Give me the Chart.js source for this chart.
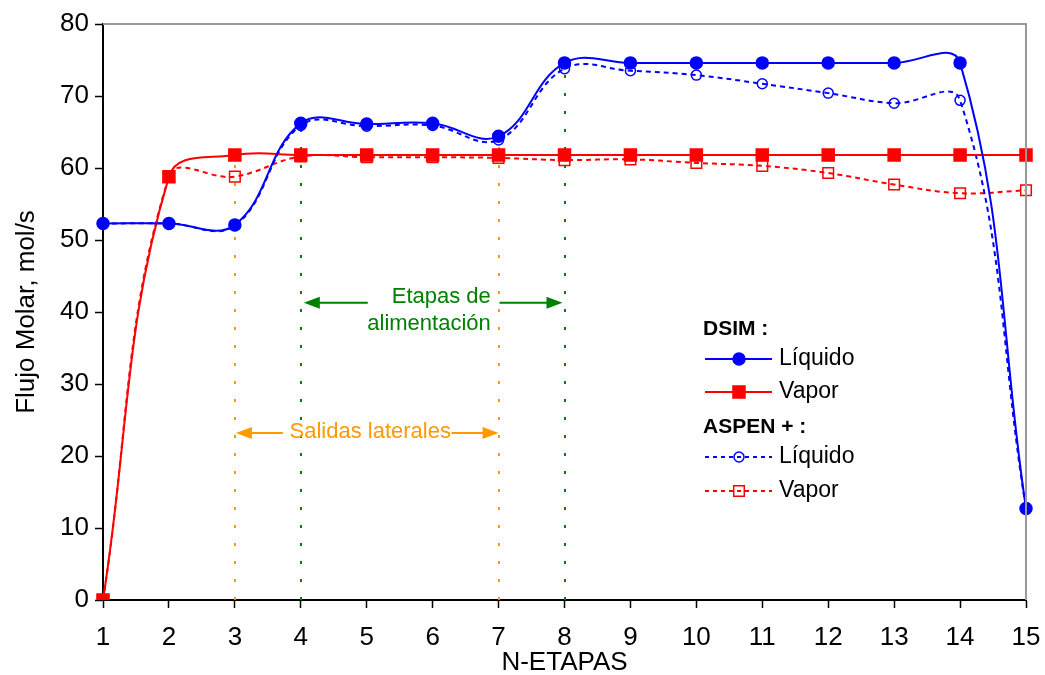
<!DOCTYPE html>
<html lang="es">
<head>
<meta charset="UTF-8">
<title>Flujo molar por etapa</title>
<script src="https://cdn.jsdelivr.net/npm/chart.js"></script>
<style>
  body { margin: 0; background: #fff; }
  #wrap { width: 1045px; height: 675px; }
</style>
</head>
<body>
<div id="wrap"><canvas id="flujo" width="1045" height="675"></canvas></div>
<script>
  // etapas de la columna y flujos molares (mol/s)
  const etapas = ['1', '2', '3', '4', '5', '6', '7', '8', '9', '10', '11', '12', '13', '14', '15'];
  const dsimLiquido = [52.3, 52.3, 52.1, 66.2, 66.1, 66.2, 64.4, 74.6, 74.6, 74.6, 74.6, 74.6, 74.6, 74.6, 12.7];
  const dsimVapor   = [0, 58.8, 61.8, 61.8, 61.8, 61.8, 61.8, 61.8, 61.8, 61.8, 61.8, 61.8, 61.8, 61.8, 61.8];
  const aspenLiquido = [52.3, 52.3, 52.0, 65.9, 65.8, 65.9, 63.9, 73.8, 73.5, 72.9, 71.7, 70.4, 69.0, 69.4, 12.7];
  const aspenVapor   = [0, 58.8, 58.8, 61.6, 61.5, 61.5, 61.4, 61.1, 61.2, 60.7, 60.3, 59.3, 57.7, 56.5, 56.9];

  // líneas de referencia verticales: [etapa, valor superior]
  const salidasLaterales = [[3, 61.8], [7, 63.9]];
  const etapasAlimentacion = [[4, 66.0], [8, 74.0]];

  const FONT = "'Liberation Sans', Arial, sans-serif";
  const AZUL = '#0000ff', ROJO = '#ff0000', VERDE = '#008000', NARANJA = '#ff9900';

  function flecha(ctx, x0, x1, y, color) {
    const dir = Math.sign(x1 - x0);
    ctx.strokeStyle = color; ctx.fillStyle = color; ctx.lineWidth = 2;
    ctx.beginPath(); ctx.moveTo(x0, y); ctx.lineTo(x1 - dir * 12, y); ctx.stroke();
    ctx.beginPath();
    ctx.moveTo(x1, y);
    ctx.lineTo(x1 - dir * 16, y - 6);
    ctx.lineTo(x1 - dir * 16, y + 6);
    ctx.closePath(); ctx.fill();
  }

  const anotaciones = {
    id: 'anotaciones',
    beforeDatasetsDraw(chart) {
      const { ctx, scales: { x, y } } = chart;
      ctx.save();
      ctx.lineWidth = 2;
      ctx.setLineDash([3, 15]);
      const vertical = (lista, color) => lista.forEach(([e, v]) => {
        const px = Math.round(x.getPixelForValue(e - 1));
        ctx.strokeStyle = color;
        ctx.beginPath(); ctx.moveTo(px, y.getPixelForValue(0)); ctx.lineTo(px, y.getPixelForValue(v)); ctx.stroke();
      });
      vertical(salidasLaterales, NARANJA);
      vertical(etapasAlimentacion, VERDE);
      ctx.setLineDash([]);

      // etapas de alimentación
      const yA = y.getPixelForValue(41.3);
      const a4 = x.getPixelForValue(3) + 3, a8 = x.getPixelForValue(7) - 2;
      flecha(ctx, a4 + 64, a4, yA, VERDE);
      flecha(ctx, a8 - 63, a8, yA, VERDE);
      ctx.font = '22px ' + FONT;
      ctx.fillStyle = VERDE;
      ctx.textAlign = 'right'; ctx.textBaseline = 'middle';
      ctx.fillText('Etapas de', a4 + 187, yA - 6);
      ctx.fillText('alimentación', a4 + 187, yA + 21);

      // salidas laterales
      const yS = y.getPixelForValue(23.2);
      const s3 = x.getPixelForValue(2) + 1, s7 = x.getPixelForValue(6);
      flecha(ctx, s3 + 47, s3, yS, NARANJA);
      flecha(ctx, s7 - 47, s7, yS, NARANJA);
      ctx.fillStyle = NARANJA;
      ctx.textAlign = 'center';
      ctx.fillText('Salidas laterales', (s3 + s7) / 2 + 3, yS - 1);
      ctx.restore();
    },
    afterDraw(chart) {
      const { ctx, chartArea: a } = chart;
      ctx.save();
      // marco gris superior y derecho
      ctx.strokeStyle = '#999'; ctx.lineWidth = 2;
      ctx.beginPath(); ctx.moveTo(a.left, a.top); ctx.lineTo(a.right, a.top); ctx.lineTo(a.right, a.bottom); ctx.stroke();

      // leyenda agrupada por simulador
      const fila = (yy, color, dash, estilo, radio, relleno, texto) => {
        ctx.strokeStyle = color; ctx.lineWidth = 2; ctx.setLineDash(dash);
        ctx.beginPath(); ctx.moveTo(705, yy); ctx.lineTo(772, yy); ctx.stroke();
        ctx.setLineDash([]);
        ctx.fillStyle = relleno;
        ctx.lineWidth = 1.5;
        Chart.helpers.drawPoint(ctx, { pointStyle: estilo, radius: radio, borderWidth: 1.5, rotation: 0 }, 739, yy);
        ctx.fillStyle = '#000';
        ctx.font = '23px ' + FONT;
        ctx.textAlign = 'left'; ctx.textBaseline = 'middle';
        ctx.fillText(texto, 779, yy);
      };
      ctx.fillStyle = '#000';
      ctx.font = 'bold 21px ' + FONT;
      ctx.textAlign = 'left'; ctx.textBaseline = 'middle';
      ctx.fillText('DSIM :', 703, 329);
      fila(359, AZUL, [], 'circle', 6, AZUL, 'Líquido');
      fila(392, ROJO, [], 'rect', 8.5, ROJO, 'Vapor');
      ctx.fillStyle = '#000';
      ctx.font = 'bold 21px ' + FONT;
      ctx.fillText('ASPEN + :', 703, 427);
      fila(457, AZUL, [4, 4], 'circle', 5, 'rgba(0,0,0,0)', 'Líquido');
      fila(491, ROJO, [4, 4], 'rect', 7.5, 'rgba(0,0,0,0)', 'Vapor');
      ctx.restore();
    }
  };

  const serie = (label, data, color, dash, estilo, radio, relleno) => ({
    label, data,
    borderColor: color, borderWidth: 2, borderDash: dash,
    pointStyle: estilo, pointRadius: radio,
    pointBackgroundColor: relleno, pointBorderColor: color, pointBorderWidth: 1.5,
    tension: 0.4, fill: false
  });

  new Chart(document.getElementById('flujo'), {
    type: 'line',
    data: {
      labels: etapas,
      datasets: [
        serie('DSIM Líquido', dsimLiquido, AZUL, [], 'circle', 6, AZUL),
        serie('DSIM Vapor', dsimVapor, ROJO, [], 'rect', 8.5, ROJO),
        serie('ASPEN + Líquido', aspenLiquido, AZUL, [5, 4], 'circle', 5, 'rgba(0,0,0,0)'),
        serie('ASPEN + Vapor', aspenVapor, ROJO, [5, 4], 'rect', 7.5, 'rgba(0,0,0,0)')
      ]
    },
    options: {
      responsive: false,
      animation: false,
      events: [],
      layout: { padding: { top: 24, right: 19, left: 0, bottom: 0 } },
      plugins: { legend: { display: false }, tooltip: { enabled: false } },
      scales: {
        x: {
          offset: false,
          grid: { drawOnChartArea: false, tickLength: 8, tickColor: '#000', tickWidth: 1.5 },
          border: { color: '#000', width: 2 },
          ticks: { color: '#000', font: { family: FONT, size: 26 }, padding: 14, autoSkip: false, maxRotation: 0 },
          title: { display: true, text: 'N-ETAPAS', color: '#000', font: { family: FONT, size: 26, lineHeight: 1 }, padding: { top: 0, bottom: -1 } },
          afterFit(s) { s.height = 75; s.paddingLeft = 0; s.paddingRight = 0; }
        },
        y: {
          min: 0, max: 80,
          grid: { drawOnChartArea: false, tickLength: 8, tickColor: '#000', tickWidth: 1.5 },
          border: { color: '#000', width: 2 },
          ticks: { stepSize: 10, color: '#000', font: { family: FONT, size: 26 }, padding: 6 },
          title: { display: true, text: 'Flujo Molar, mol/s', color: '#000', font: { family: FONT, size: 26, lineHeight: 1 }, padding: 14 },
          afterFit(s) { s.width = 103; s.paddingTop = 0; s.paddingBottom = 0; }
        }
      }
    },
    plugins: [anotaciones]
  });
</script>
</body>
</html>
